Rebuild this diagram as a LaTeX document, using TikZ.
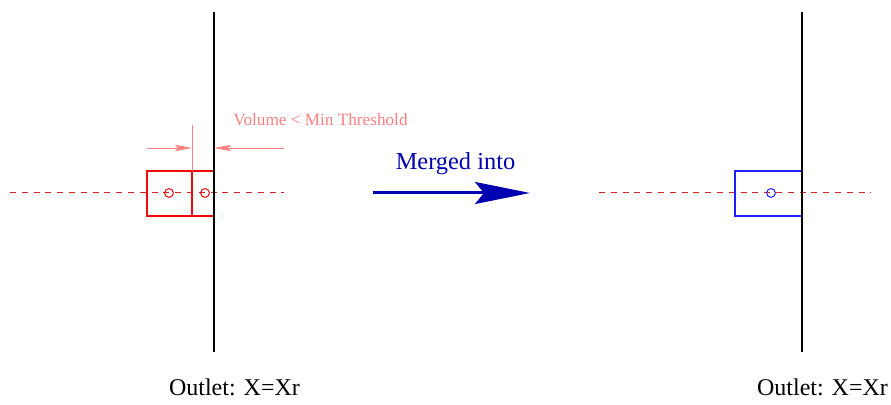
\documentclass[tikz,border=0pt]{standalone}
\usepackage{fontspec}
\setmainfont{Liberation Serif}
\usetikzlibrary{arrows.meta}
\definecolor{cellred}{RGB}{240,10,10}
\definecolor{axisred}{RGB}{215,35,35}
\definecolor{dimpink}{RGB}{255,128,128}
\definecolor{cellblue}{RGB}{30,30,255}
\definecolor{mergeblue}{RGB}{0,0,176}
\begin{document}
\begin{tikzpicture}[x=0.5pt,y=-0.5pt,
  wall/.style={draw=black,line width=0.7pt},
  cell/.style={line width=0.65pt},
  axis/.style={draw=axisred,line width=0.5pt,dash pattern=on 3pt off 2.9pt},
  centre/.style={line width=0.5pt},
  dimline/.style={draw=dimpink,line width=0.45pt,-{Stealth[length=8.5pt,width=3.2pt,inset=1.6pt]}},
  label/.style={inner sep=0pt,anchor=base},
  mergearrow/.style={draw=mergeblue,line width=1.5pt,-{Stealth[length=27.5pt,width=11pt,inset=4.5pt]}}]
\useasboundingbox (0,0) rectangle (891,405);

% ---- left panel: two cells at the outlet ----
\coordinate (wallLtop) at (214,12);
\coordinate (wallLbot) at (214,352);
\draw[axis] (10,193) -- (284,193);
\draw[cell,draw=cellred] (147,171) rectangle (214,216);
\draw[cell,draw=cellred] (192,171) -- (192,216);
\draw[centre,draw=cellred] (169,193) circle[radius=2.2pt];
\draw[centre,draw=cellred] (205,193) circle[radius=2.2pt];
\draw[wall] (wallLtop) -- (wallLbot);

% dimension of the small cell
\draw[draw=dimpink,line width=0.45pt] (192,125) -- (192,171);
\coordinate (dimA) at (147,148);
\coordinate (dimB) at (192,148);
\coordinate (dimC) at (284,148);
\coordinate (dimD) at (214,148);
\draw[dimline] (dimA) -- (dimB);
\draw[dimline] (dimC) -- (dimD);
\node[label,text=dimpink,font=\fontsize{8.6}{10}\selectfont,anchor=base west] (thr) at (233,126) {Volume < Min Threshold};

\node[label,font=\fontsize{12}{14}\selectfont] (outL) at (234.5,396) {Outlet: X=Xr};

% ---- merge arrow ----
\coordinate (mA) at (373,193);
\coordinate (mB) at (530,193);
\draw[mergearrow] (mA) -- (mB);
\node[label,text=mergeblue,font=\fontsize{12.2}{14}\selectfont] (mlab) at (455.5,170) {Merged into};

% ---- right panel: merged cell ----
\coordinate (wallRtop) at (802,12);
\coordinate (wallRbot) at (802,352);
\draw[axis] (599,193) -- (871,193);
\draw[cell,draw=cellblue] (735,171) rectangle (802,216);
\draw[centre,draw=cellblue] (771,193) circle[radius=2.2pt];
\draw[wall] (wallRtop) -- (wallRbot);

\node[label,font=\fontsize{12}{14}\selectfont] (outR) at (822.5,396) {Outlet: X=Xr};
\end{tikzpicture}
\end{document}
